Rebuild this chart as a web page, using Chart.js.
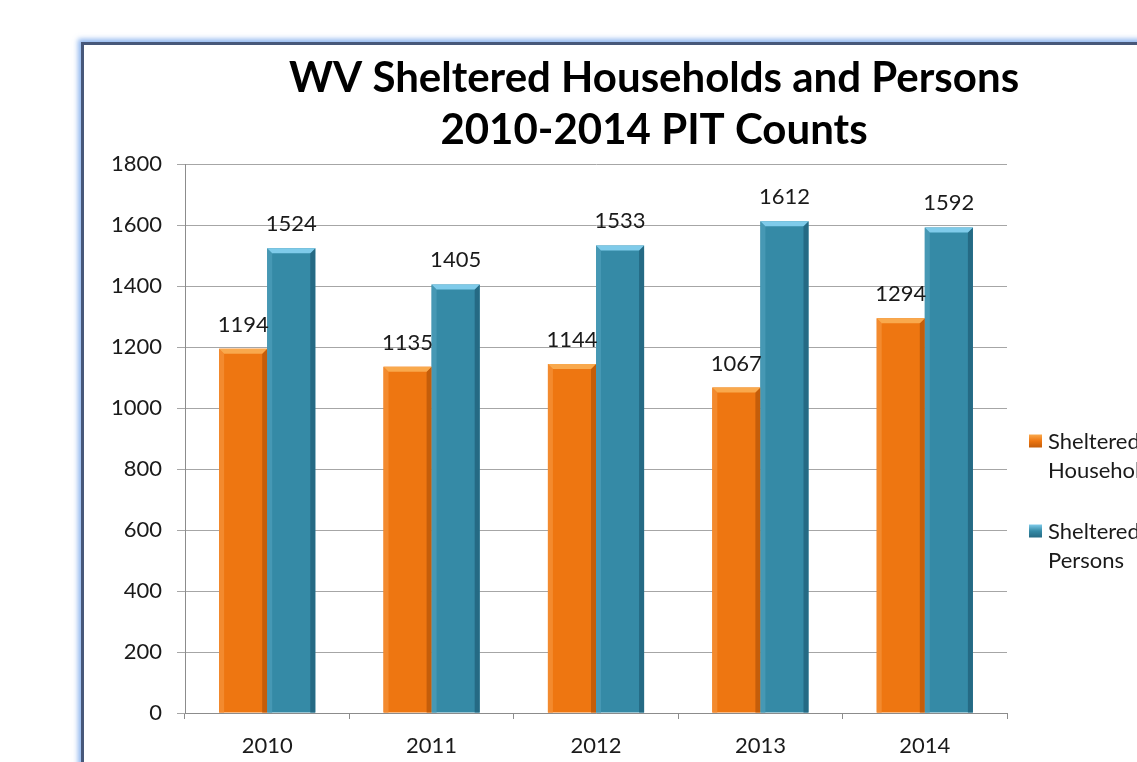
<!DOCTYPE html>
<html>
<head>
<meta charset="utf-8">
<script src="https://cdn.jsdelivr.net/npm/chart.js@4"></script>
<style>
  html, body { margin:0; padding:0; background:#fff; overflow:hidden; width:1137px; height:762px; }
  #frame { position:absolute; left:81px; top:42px; width:1200px; height:800px;
           border-left:3px solid #47587a; border-top:3px solid #47587a;
           box-shadow: -2px -2px 5px 1px rgba(110,160,235,0.75); background:#fff; }
  #wrap { position:absolute; left:84px; top:45px; width:1140px; height:717px; }
</style>
</head>
<body>
<div id="frame"></div>
<div id="wrap"><canvas id="c" width="1140" height="717"></canvas></div>
<script>
const categories = ['2010', '2011', '2012', '2013', '2014'];
const households = [1194, 1135, 1144, 1067, 1294];
const persons = [1524, 1405, 1533, 1612, 1592];
const seriesNames = [['Sheltered', 'Households'], ['Sheltered', 'Persons']];
const titleLines = ['WV Sheltered Households and Persons', '2010-2014 PIT Counts'];
const yMin = 0, yMax = 1800, yStep = 200;

const FONT = 'Lato, "Open Sans", sans-serif';
const palette = [
  { body: '#EE7611', top: '#F9A94D', left: '#F38A2E', right: '#C45D0A' },
  { body: '#358AA6', top: '#7FCBEA', left: '#4698B4', right: '#256A84' }
];

const bevelPlugin = {
  id: 'bevel',
  afterDatasetsDraw(chart) {
    const ctx = chart.ctx;
    chart.data.datasets.forEach((ds, di) => {
      const meta = chart.getDatasetMeta(di);
      const p = palette[di];
      meta.data.forEach(bar => {
        const l = bar.x - bar.width / 2, r = bar.x + bar.width / 2;
        const t = bar.y, b = bar.base, e = 5;
        ctx.save();
        ctx.fillStyle = p.left;
        ctx.beginPath(); ctx.moveTo(l, t); ctx.lineTo(l + e, t + e); ctx.lineTo(l + e, b); ctx.lineTo(l, b); ctx.closePath(); ctx.fill();
        ctx.fillStyle = p.right;
        ctx.beginPath(); ctx.moveTo(r, t); ctx.lineTo(r - e, t + e); ctx.lineTo(r - e, b); ctx.lineTo(r, b); ctx.closePath(); ctx.fill();
        ctx.fillStyle = p.top;
        ctx.beginPath(); ctx.moveTo(l, t); ctx.lineTo(r, t); ctx.lineTo(r - e, t + e); ctx.lineTo(l + e, t + e); ctx.closePath(); ctx.fill();
        ctx.restore();
      });
    });
  }
};

const labelPlugin = {
  id: 'valueLabels',
  afterDatasetsDraw(chart) {
    const ctx = chart.ctx;
    ctx.save();
    ctx.font = '22px ' + FONT;
    ctx.fillStyle = '#1a1a1a';
    ctx.textAlign = 'center';
    ctx.textBaseline = 'alphabetic';
    chart.data.datasets.forEach((ds, di) => {
      const meta = chart.getDatasetMeta(di);
      meta.data.forEach((bar, i) => {
        ctx.fillText(String(ds.data[i]), bar.x, bar.y - 17);
      });
    });
    ctx.restore();
  }
};

const titlePlugin = {
  id: 'centerTitle',
  afterDraw(chart) {
    const ctx = chart.ctx;
    ctx.save();
    ctx.font = 'bold 42px ' + FONT;
    ctx.fillStyle = '#000';
    ctx.textAlign = 'center';
    ctx.textBaseline = 'middle';
    const cx = chart.width / 2;
    titleLines.forEach((t, k) => ctx.fillText(t, cx, 33 + k * 52));
    ctx.restore();
  }
};

const legendPlugin = {
  id: 'sideLegend',
  afterDraw(chart) {
    const ctx = chart.ctx;
    const x0 = chart.chartArea.right + 22;
    const yMid = (chart.chartArea.top + chart.chartArea.bottom) / 2;
    const ys = [yMid + 3, yMid + 93];
    ctx.save();
    ctx.font = '22px ' + FONT;
    ctx.textBaseline = 'middle';
    seriesNames.forEach((lines, i) => {
      const p = palette[i];
      const sy = ys[i];
      const sx = x0;
      const g = ctx.createLinearGradient(sx, sy - 7, sx, sy + 6);
      g.addColorStop(0, p.top); g.addColorStop(0.5, p.body); g.addColorStop(1, p.right);
      ctx.fillStyle = g;
      ctx.fillRect(sx, sy - 7, 13, 13);
      ctx.fillStyle = '#1a1a1a';
      lines.forEach((t, k) => ctx.fillText(t, sx + 19, sy + k * 29));
    });
    ctx.restore();
  }
};

new Chart(document.getElementById('c'), {
  type: 'bar',
  data: {
    labels: categories,
    datasets: [
      { label: seriesNames[0].join(' '), data: households, backgroundColor: palette[0].body, borderWidth: 0 },
      { label: seriesNames[1].join(' '), data: persons, backgroundColor: palette[1].body, borderWidth: 0 }
    ]
  },
  options: {
    responsive: false,
    animation: false,
    layout: { padding: { left: 0, right: 217, top: 119, bottom: 0 } },
    datasets: { bar: { categoryPercentage: 0.585, barPercentage: 1.0 } },
    plugins: {
      legend: { display: false },
      tooltip: { enabled: false },
      title: { display: false }
    },
    scales: {
      x: {
        offset: true,
        grid: { display: true, drawOnChartArea: false, drawTicks: true, tickLength: 6, color: '#8c8c8c', offset: true },
        border: { display: true, color: '#8c8c8c', width: 1 },
        ticks: { color: '#1a1a1a', font: { family: FONT, size: 22 }, padding: 14 },
        afterFit(s) { s.height = 49; }
      },
      y: {
        min: yMin, max: yMax,
        grid: { color: '#a6a6a6', lineWidth: 1, drawTicks: true, tickLength: 8 },
        border: { display: true, color: '#8c8c8c', width: 1 },
        ticks: { stepSize: yStep, color: '#1a1a1a', font: { family: FONT, size: 22 }, padding: 15,
                 callback: v => String(v) },
        afterFit(s) { s.width = 101; }
      }
    }
  },
  plugins: [bevelPlugin, labelPlugin, titlePlugin, legendPlugin]
});
</script>
</body>
</html>
